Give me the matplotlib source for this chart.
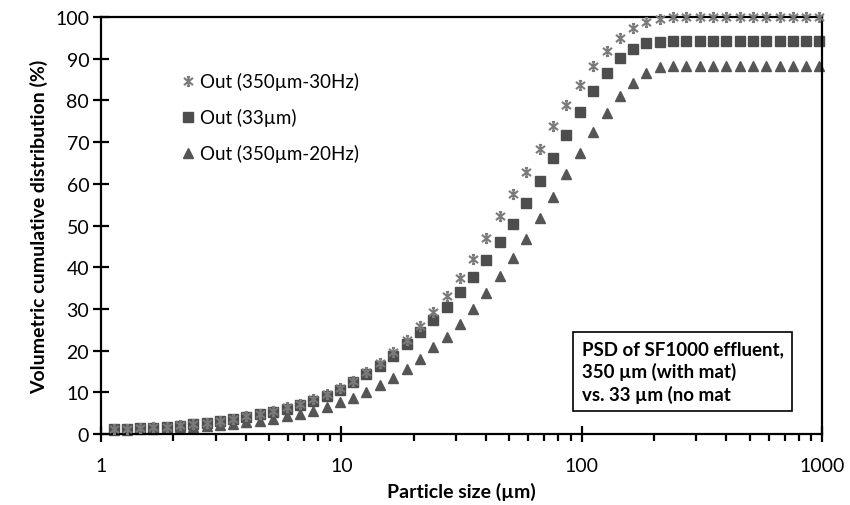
import numpy as np
import matplotlib
matplotlib.use("Agg")
import matplotlib.pyplot as plt
from matplotlib.path import Path
from matplotlib.ticker import LogLocator, NullFormatter, FixedLocator

plt.rcParams['font.family'] = ['Lato', 'DejaVu Sans']

# particle size bins (um)
size = [1.13, 1.28, 1.45, 1.65, 1.88, 2.13, 2.42, 2.75, 3.12, 3.55,
        4.03, 4.58, 5.21, 5.92, 6.72, 7.64, 8.68, 9.86, 11.2, 12.7,
        14.5, 16.4, 18.7, 21.2, 24.1, 27.4, 31.1, 35.3, 40.1, 45.6,
        51.8, 58.9, 66.9, 76.0, 86.4, 98.1, 111, 127, 144, 163,
        186, 211, 240, 272, 310, 352, 400, 454, 516, 586,
        666, 756, 859, 976]

# Out (350um-30Hz)
out_30hz = [1.2, 1.3, 1.45, 1.6, 1.8, 2.05, 2.35, 2.7, 3.1, 3.6,
            4.2, 4.9, 5.5, 6.4, 7.3, 8.3, 9.5, 11.0, 12.8, 14.8,
            17.0, 19.6, 22.6, 25.9, 29.2, 33.1, 37.3, 42.0, 46.9, 52.2,
            57.6, 62.9, 68.3, 73.8, 78.9, 83.8, 88.3, 91.9, 95.0, 97.3,
            98.7, 99.6, 100, 100, 100, 100, 100, 100, 100, 100,
            100, 100, 100, 100]

# Out (33um)
out_33 = [1.2, 1.3, 1.4, 1.55, 1.75, 2.0, 2.3, 2.6, 3.0, 3.5,
          4.1, 4.7, 5.3, 6.1, 7.0, 8.0, 9.2, 10.6, 12.4, 14.3,
          16.4, 18.8, 21.6, 24.4, 27.3, 30.5, 34.0, 37.7, 41.8, 46.0,
          50.4, 55.5, 60.6, 66.1, 71.7, 77.2, 82.2, 86.6, 90.1, 92.3,
          93.8, 94.1, 94.2, 94.2, 94.2, 94.2, 94.2, 94.2, 94.2, 94.2,
          94.2, 94.2, 94.2, 94.2]

# Out (350um-20Hz)
out_20hz = [1.0, 1.05, 1.15, 1.25, 1.4, 1.55, 1.75, 1.95, 2.2, 2.5,
            2.85, 3.2, 3.6, 4.2, 4.8, 5.6, 6.5, 7.6, 8.7, 10.1,
            11.7, 13.5, 15.7, 18.1, 20.8, 23.3, 26.5, 30.0, 33.7, 37.8,
            42.2, 46.8, 51.9, 56.9, 62.3, 67.5, 72.5, 77.0, 81.1, 84.2,
            86.6, 87.9, 88.3, 88.3, 88.3, 88.3, 88.3, 88.3, 88.3, 88.3,
            88.3, 88.3, 88.3, 88.3]

labels = ["Out (350\u00b5m-30Hz)", "Out (33\u00b5m)", "Out (350\u00b5m-20Hz)"]

# excel style star marker: X + vertical line with small caps
star = Path([(-1, -0.8), (1, 0.8), (-1, 0.8), (1, -0.8), (0, -1), (0, 1),
             (-0.35, 1), (0.35, 1), (-0.35, -1), (0.35, -1)],
            [Path.MOVETO, Path.LINETO] * 5)

fig = plt.figure(figsize=(8.5, 5.06), dpi=100)
ax = fig.add_axes([0.1188, 0.1403, 0.8482, 0.8241])

ax.plot(size, out_30hz, linestyle='none', marker=star, markersize=6.5,
        markerfacecolor='none', markeredgecolor='#7a7a7a', markeredgewidth=1.5,
        label=labels[0], clip_on=False, zorder=3)
ax.plot(size, out_33, linestyle='none', marker='s', markersize=6.5,
        color='#4d4d4d', label=labels[1], clip_on=False, zorder=2)
ax.plot(size, out_20hz, linestyle='none', marker='^', markersize=6.5,
        color='#555555', label=labels[2], clip_on=False, zorder=2)

ax.set_xscale('log')
ax.set_xlim(1, 1000)
ax.set_ylim(0, 100)
ax.xaxis.set_major_locator(FixedLocator([1, 10, 100, 1000]))
ax.set_xticklabels(['1', '10', '100', '1000'])
ax.xaxis.set_minor_locator(LogLocator(base=10, subs=np.arange(2, 10)))
ax.xaxis.set_minor_formatter(NullFormatter())
ax.set_yticks(np.arange(0, 101, 10))

for s in ax.spines.values():
    s.set_linewidth(1.6)

ax.tick_params(axis='both', which='major', direction='inout', length=11,
               width=1.6, labelsize=14, pad=3)
ax.tick_params(axis='x', which='major', pad=11)
ax.tick_params(axis='x', which='minor', direction='out', length=5, width=1.6)

ax.set_xlabel("Particle size (\u00b5m)", fontsize=14, fontweight='bold', labelpad=6)
ax.set_ylabel("Volumetric cumulative distribution (%)", fontsize=14,
              fontweight='bold', labelpad=5)

leg = ax.legend(loc='upper left', bbox_to_anchor=(0.09, 0.908), frameon=False,
                fontsize=13.5, handlelength=0.6, handletextpad=0.3,
                labelspacing=0.95)

ax.text(0.667, 0.075, "PSD of SF1000 effluent,\n350 \u00b5m (with mat)\nvs. 33 \u00b5m (no mat",
        transform=ax.transAxes, fontsize=13.5, fontweight='bold',
        ha='left', va='bottom', linespacing=1.3,
        bbox=dict(boxstyle='square,pad=0.45', facecolor='white',
                  edgecolor='black', linewidth=1.2))

fig.savefig("out.png", dpi=100)
